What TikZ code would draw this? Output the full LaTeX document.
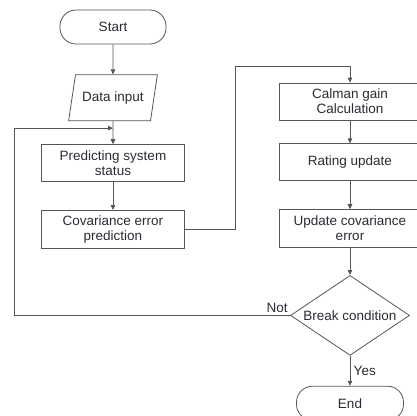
\documentclass[tikz,border=0pt]{standalone}
\usepackage{fontspec}
\setmainfont{Liberation Sans}
\usepackage{xcolor}
\usepackage{tikz}
\usetikzlibrary{shapes.geometric,arrows.meta,positioning,calc}

\definecolor{linegray}{HTML}{555555}
\definecolor{textgray}{HTML}{2B2B33}

\begin{document}
\begin{tikzpicture}[
    node distance=28pt,
    font=\fontsize{13.5}{15}\selectfont,
    >={Triangle[length=5pt,width=4.5pt]},
    every node/.style={text=textgray},
    line/.style={draw=linegray, line width=0.8pt},
    termbox/.style={rectangle, draw=linegray, line width=0.8pt, rounded corners=16pt, minimum width=106pt, minimum height=34pt, align=center},
    iobox/.style={trapezium, trapezium left angle=66, trapezium right angle=114, trapezium stretches=true, draw=linegray, line width=0.8pt, minimum width=89pt, minimum height=46pt, inner sep=0pt, align=center},
    procbox/.style={rectangle, draw=linegray, line width=0.8pt, minimum width=143pt, minimum height=37pt, inner sep=2pt, align=center},
    decbox/.style={diamond, aspect=1.5, draw=linegray, line width=0.8pt, minimum width=119pt, minimum height=80pt, inner sep=0pt, align=center}
]
\useasboundingbox (0pt,0pt) rectangle (416pt,-416pt);

% Left column
\node[termbox] (start) at (113pt,-27pt) {Start};
\node[iobox, below=30pt of start] (data_in) {Data input};
\node[procbox, below=23pt of data_in] (predict) {Predicting system\\status};
\node[procbox, below=28pt of predict, minimum height=38pt] (cov_pred) {Covariance error\\prediction};

% Right column
\node[procbox, minimum width=142pt] (calman) at (350pt,-101.5pt) {Calman gain\\Calculation};
\node[procbox, minimum width=142pt, below=23pt of calman] (rating) {Rating update};
\node[procbox, minimum width=142pt, minimum height=38pt, below=28pt of rating] (cov_upd) {Update covariance\\error};
\node[decbox, below=27pt of cov_upd] (brk) {Break condition};
\node[termbox, minimum width=107pt, below=30pt of brk] (stop) {End};

% Loop entry point
\coordinate (loop_in) at ($(data_in.south)!0.3!(predict.north)$);

% Connections
\draw[line, ->] (start) -- (data_in);
\draw[line, ->] (data_in) -- (predict);
\draw[line, ->] (predict) -- (cov_pred);
\draw[line, ->] (cov_pred.east) -- ++(50pt,0) |- ([yshift=16pt]calman.north) -- (calman.north);
\draw[line, ->] (calman) -- (rating);
\draw[line, ->] (rating) -- (cov_upd);
\draw[line, ->] (cov_upd) -- (brk);
\draw[line, ->] (brk) -- node[right]{Yes} (stop);
\draw[line, ->] (brk.west) -- node[pos=0, above left, inner sep=2pt]{Not} ++(-276pt,0) |- (loop_in);

\end{tikzpicture}
\end{document}
